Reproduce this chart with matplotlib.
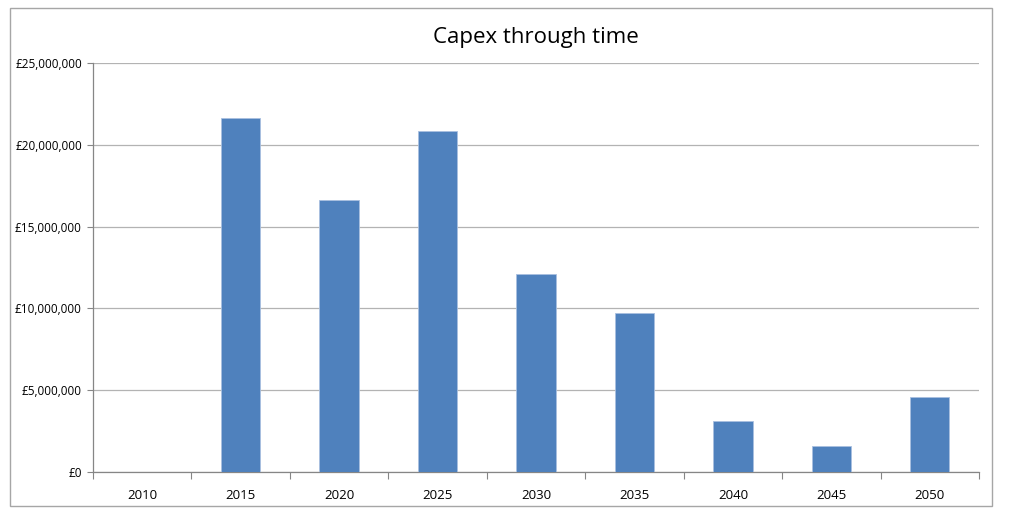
import matplotlib
matplotlib.use("Agg")
import matplotlib.pyplot as plt
from matplotlib.patches import Rectangle
from matplotlib.ticker import FuncFormatter, MultipleLocator

years = ["2010", "2015", "2020", "2025", "2030", "2035", "2040", "2045", "2050"]
capex = [0, 21640000, 16630000, 20850000, 12100000, 9720000, 3120000, 1590000, 4580000]
title = "Capex through time"

plt.rcParams['font.family'] = ['Open Sans', 'DejaVu Sans']

fig = plt.figure(figsize=(10.09, 5.09), dpi=100)
W, H = 1009, 509
ax = fig.add_axes([93 / W, 1 - 472 / H, (979 - 93) / W, (472 - 63) / H])

# outer chart border
fig.patches.append(Rectangle((10 / W, 1 - 506 / H), (992 - 10) / W, (506 - 8) / H,
                             transform=fig.transFigure, fill=False,
                             edgecolor="#a6a6a6", linewidth=1.0))

x = list(range(len(years)))
ax.bar(x, capex, width=0.4, color="#4F81BD", edgecolor="#a9c0e0", linewidth=0.6, zorder=3)

ax.set_xlim(-0.5, len(years) - 0.5)
ax.set_ylim(0, 25000000)
ax.yaxis.set_major_locator(MultipleLocator(5000000))
ax.yaxis.set_major_formatter(FuncFormatter(lambda v, p: "£{:,.0f}".format(v)))
ax.set_xticks(x)
ax.set_xticklabels(years)
ax.set_xticks([i + 0.5 for i in range(-1, len(years))], minor=True)
ax.tick_params(axis='x', which='major', length=0, pad=12, labelsize=9.5, colors="#000000")
ax.tick_params(axis='x', which='minor', length=5, color="#868686", width=0.8)
ax.tick_params(axis='y', length=4, color="#868686", width=0.8, labelsize=8.5, pad=4)

ax.grid(axis='y', color="#b3b3b3", linewidth=0.9, zorder=0)
for s in ["top", "right"]:
    ax.spines[s].set_visible(False)
for s in ["left", "bottom"]:
    ax.spines[s].set_color("#868686")
    ax.spines[s].set_linewidth(0.9)

fig.text(536 / W, 1 - 38 / H, title, ha="center", va="center", fontsize=16)

fig.savefig("out.png", dpi=100)
